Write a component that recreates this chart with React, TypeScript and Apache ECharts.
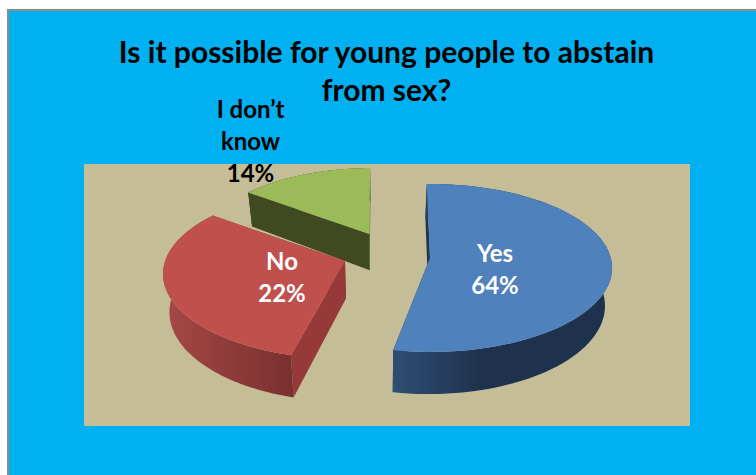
import React, { useEffect, useRef } from "react";
import * as echarts from "echarts";

const titleText = "Is it possible for young people to abstain\nfrom sex?";
const categories = ["Yes", "No", "I don\u2019t\nknow"];
const shares = [64, 22, 14];

const topColors = ["#4F81BD", "#C0504D", "#9BBB59"];
const wallStops = [
  ["#2F4E74", "#1F324D"],
  ["#A64846", "#7A302E"],
  ["#3F4A21", "#3F4A21"],
];
const cutColors = ["#1F3550", "#953A38", "#3F4A21"];
const labelColors = ["#FFFFFF", "#FFFFFF", "#000000"];

// Where each exploded slice sits: hub, rim ellipse, and small angular trims in degrees.
const sliceLayout = [
  { hub: [430, 258], cx: 430, cy: 268, rx: 182, ry: 84, trim: [0, 2.8], label: [495, 268] },
  { hub: [345, 261], cx: 345, cy: 274, rx: 182, ry: 85, trim: [2.8, -1.4], label: [282, 276] },
  { hub: [369.5, 234], cx: 373, cy: 242, rx: 168, ry: 74, trim: [0, 0], label: [250.5, 140] },
];

// Perspective of the tilted pie plane, as a Moebius map on half-angles.
const tiltA = 0.7613;
const tiltB = -0.0087;
const tiltC = 0.3734;
const RAD = Math.PI / 180;

function tilt(deg: number, previous?: number) {
  const h = (deg / 2) * RAD;
  const num = tiltA * Math.sin(h) + tiltB * Math.cos(h);
  const den = tiltC * Math.sin(h) + Math.cos(h);
  let out = (2 * Math.atan2(num, den)) / RAD;
  if (previous !== undefined) {
    while (out < previous - 180) out += 360;
    while (out > previous + 180) out -= 360;
  }
  return out;
}

// Bottom face: lower and pulled slightly towards the vanishing line.
const VANISH_X = 378;
const dropPoint = (p: number[]) => [
  VANISH_X + (p[0] - VANISH_X) * 0.97,
  p[1] + 38 + (p[1] - 270) * 0.05,
];

function rimPoints(index: number) {
  const before = shares.slice(0, index).reduce((a, b) => a + b, 0);
  const total = shares.reduce((a, b) => a + b, 0);
  const from = (before / total) * 360;
  const to = ((before + shares[index]) / total) * 360;
  const lay = sliceLayout[index];
  const pts: number[][] = [];
  const steps = 90;
  let prev: number | undefined = undefined;
  const angles: number[] = [];
  for (let i = 0; i <= steps; i++) {
    prev = tilt(from + ((to - from) * i) / steps, prev);
    angles.push(prev);
  }
  const start = angles[0] + lay.trim[0];
  const end = angles[steps] - lay.trim[1];
  for (let i = 0; i <= steps; i++) {
    const a = angles[i];
    const t = (a - angles[0]) / (angles[steps] - angles[0]);
    const b = (start + (end - start) * t) * RAD;
    pts.push([lay.cx + lay.rx * Math.sin(b), lay.cy - lay.ry * Math.cos(b)]);
  }
  return pts;
}

function renderSlice(_params: any, api: any) {
  const index = api.value(1) as number;
  const lay = sliceLayout[index];
  const rim = rimPoints(index);
  const lower = rim.map(dropPoint);
  const hubLow = dropPoint(lay.hub);
  const first = rim[0];
  const last = rim[rim.length - 1];
  const children: any[] = [
    {
      type: "polygon",
      shape: { points: [first, lay.hub, hubLow, dropPoint(first)] },
      style: { fill: cutColors[index] },
    },
    {
      type: "polygon",
      shape: { points: [last, lay.hub, hubLow, dropPoint(last)] },
      style: { fill: cutColors[index] },
    },
    {
      type: "polygon",
      shape: { points: [...rim, ...lower.slice().reverse()] },
      style: {
        fill: new echarts.graphic.LinearGradient(0, 0, 1, 0, [
          { offset: 0, color: wallStops[index][0] },
          { offset: index === 0 ? 0.4 : 1, color: wallStops[index][1] },
          { offset: 1, color: wallStops[index][1] },
        ]),
      },
    },
    {
      type: "polygon",
      shape: { points: [lay.hub, ...rim] },
      style: { fill: topColors[index] },
    },
    {
      type: "text",
      x: lay.label[0],
      y: lay.label[1],
      z2: 10,
      style: {
        text: `${categories[index]}\n${shares[index]}%`,
        fill: labelColors[index],
        font: "bold 24px Lato",
        lineHeight: 32,
        align: "center",
        verticalAlign: "middle",
      },
    },
  ];
  return { type: "group", children };
}

export default function App() {
  const ref = useRef<HTMLDivElement>(null);
  useEffect(() => {
    document.body.style.margin = "0";
    const chart = echarts.init(ref.current!, null, { renderer: "svg" });
    chart.setOption({
      animation: false,
      backgroundColor: "#FFFFFF",
      title: {
        text: titleText,
        left: 381.5,
        top: 27,
        textAlign: "center",
        textStyle: {
          color: "#000000",
          fontFamily: "Lato",
          fontWeight: "bold",
          fontSize: 30,
          lineHeight: 38,
        },
      },
      graphic: [
        {
          type: "rect",
          shape: { x: 8, y: 10, width: 760, height: 480 },
          style: { fill: "#00B0F0", stroke: "#8C8C8C", lineWidth: 2 },
        },
        {
          type: "rect",
          shape: { x: 84, y: 164, width: 606, height: 262 },
          style: { fill: "#C4BD97" },
        },
      ],
      series: [
        {
          type: "custom",
          coordinateSystem: "none",
          renderItem: renderSlice,
          // Painted back to front so nearer slices cover farther ones.
          data: [2, 1, 0].map((i) => ({ name: categories[i], value: [shares[i], i] })),
          silent: true,
        },
      ],
    });
    return () => chart.dispose();
  }, []);
  return <div ref={ref} style={{ width: 756, height: 475 }} />;
}
